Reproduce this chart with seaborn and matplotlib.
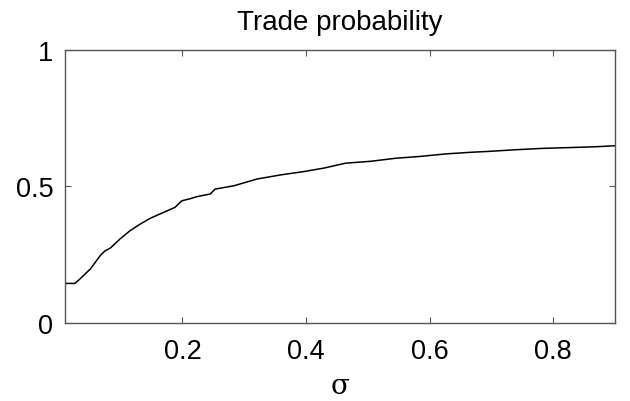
import matplotlib
matplotlib.use("Agg")
import matplotlib.pyplot as plt
import seaborn as sns
import pandas as pd

# Trade probability as a function of sigma
sigma = [0.010, 0.026, 0.034, 0.051, 0.067, 0.075, 0.083, 0.099, 0.115, 0.132,
         0.148, 0.164, 0.188, 0.199, 0.213, 0.223, 0.245, 0.253, 0.283, 0.321,
         0.359, 0.396, 0.429, 0.464, 0.505, 0.545, 0.586, 0.626, 0.667, 0.694,
         0.737, 0.780, 0.823, 0.867, 0.900]
prob = [0.144, 0.144, 0.160, 0.197, 0.246, 0.264, 0.273, 0.307, 0.337, 0.362,
        0.383, 0.399, 0.423, 0.447, 0.455, 0.462, 0.472, 0.490, 0.502, 0.527,
        0.542, 0.554, 0.567, 0.585, 0.592, 0.603, 0.610, 0.619, 0.625, 0.628,
        0.634, 0.639, 0.642, 0.645, 0.649]

x_ticks = [0.2, 0.4, 0.6, 0.8]
x_tick_labels = ["0.2", "0.4", "0.6", "0.8"]
y_ticks = [0, 0.5, 1]
y_tick_labels = ["0", "0.5", "1"]

sns.set_style("white")
plt.rcParams["font.family"] = ["Liberation Sans", "DejaVu Sans"]
plt.rcParams["text.color"] = "black"

df = pd.DataFrame({"sigma": sigma, "prob": prob})

fig = plt.figure(figsize=(6.3, 4.02), dpi=100)
ax = fig.add_axes([0.1032, 0.1948, 0.8730, 0.6783])

sns.lineplot(data=df, x="sigma", y="prob", ax=ax, color="black", linewidth=1.1)

ax.set_xlim(0.01, 0.9)
ax.set_ylim(0, 1)
ax.set_xticks(x_ticks)
ax.set_xticklabels(x_tick_labels)
ax.set_yticks(y_ticks)
ax.set_yticklabels(y_tick_labels)

for sp in ax.spines.values():
    sp.set_visible(True)
    sp.set_color("#555555")
    sp.set_linewidth(1.0)

ax.tick_params(axis="both", which="both", direction="in", length=4.3, width=0.8,
               color="#555555", labelsize=19.5, labelcolor="black",
               top=True, right=True, bottom=True, left=True)
ax.tick_params(axis="x", pad=11)
ax.tick_params(axis="y", pad=8.5)

ax.set_title("Trade probability", fontsize=20, pad=15, color="black")
ax.set_xlabel("σ", fontsize=20, labelpad=6, family=["DejaVu Serif"], color="black")
ax.set_ylabel("")

fig.savefig("out.png", dpi=100)
